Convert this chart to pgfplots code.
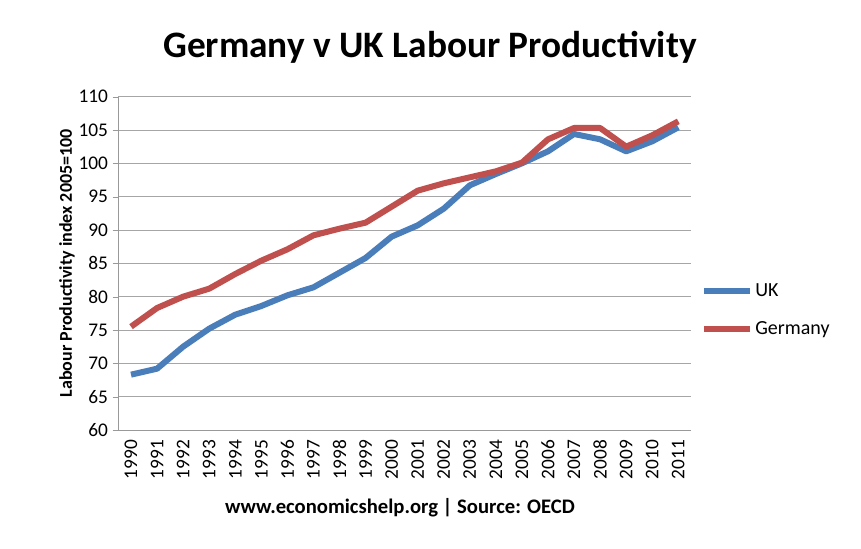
\documentclass[border=0pt]{standalone}
\usepackage{pgfplots}
\pgfplotsset{compat=1.18}
\usepackage{fontspec}
\setmainfont{Carlito}
\definecolor{ukblue}{RGB}{74,126,187}
\definecolor{dered}{RGB}{192,80,77}
\begin{document}
\begin{tikzpicture}
\fill[white] (0pt,0pt) rectangle (645.75pt,411.75pt);
\node[font=\bfseries\fontsize{28}{32}\selectfont] at (322.5pt,376pt) {Germany v UK Labour Productivity};
\node[font=\bfseries\fontsize{15.5}{18}\selectfont] at (300pt,30.75pt) {www.economicshelp.org | Source: OECD};
\begin{axis}[at={(88.5pt,89.25pt)},anchor=south west,scale only axis,
 width=430pt,height=250pt,
 xmin=1989.5,xmax=2011.5,ymin=60,ymax=110,
 xtick={1990,...,2011},ytick={60,65,...,110},
 x tick label style={rotate=90,anchor=east,font=\fontsize{14.5}{16}\selectfont},
 y tick label style={font=\fontsize{14.5}{16}\selectfont},
 /pgf/number format/assume math mode=true,
 /pgf/number format/1000 sep={},
 axis x line*=bottom, axis y line*=left,
 axis line style={draw=gray!80},
 ymajorgrids, grid style={gray!70},
 tick style={draw=gray!80}, major tick length=4pt,
 xtick style={draw=none},
 tick align=outside,
 ylabel={\bfseries Labour Productivity index 2005=100},
 ylabel style={font=\fontsize{13.5}{15}\selectfont,yshift=-4pt},
 legend style={at={(1.01,0.36)},anchor=west,draw=none,font=\fontsize{15}{17}\selectfont,row sep=13pt},
 legend cell align=left,
 legend image code/.code={\draw[#1] (0pt,0pt) -- (34pt,0pt);},
]
\addplot[ukblue,line width=4.5pt,line join=round] coordinates {
(1990,68.3)(1991,69.2)(1992,72.5)(1993,75.2)(1994,77.3)(1995,78.6)(1996,80.2)(1997,81.4)(1998,83.6)(1999,85.8)(2000,89)(2001,90.7)(2002,93.2)(2003,96.7)(2004,98.4)(2005,100)(2006,101.8)(2007,104.4)(2008,103.6)(2009,101.8)(2010,103.3)(2011,105.4)};
\addlegendentry{UK}
\addplot[dered,line width=4.5pt,line join=round] coordinates {
(1990,75.5)(1991,78.3)(1992,80)(1993,81.2)(1994,83.4)(1995,85.4)(1996,87.1)(1997,89.2)(1998,90.2)(1999,91.1)(2000,93.5)(2001,95.9)(2002,97)(2003,97.9)(2004,98.8)(2005,100.1)(2006,103.6)(2007,105.3)(2008,105.3)(2009,102.5)(2010,104.2)(2011,106.3)};
\addlegendentry{Germany}
\end{axis}
\end{tikzpicture}
\end{document}
